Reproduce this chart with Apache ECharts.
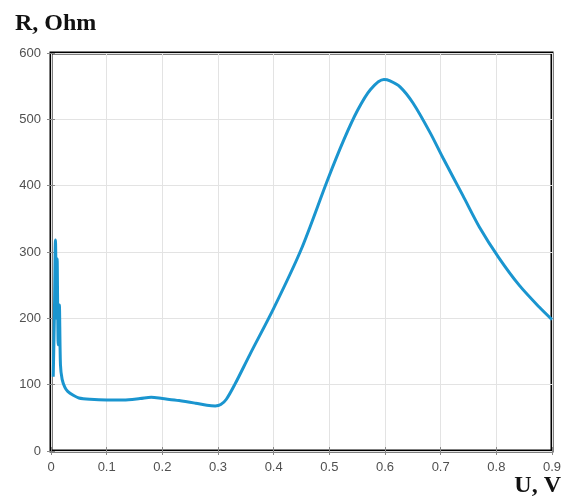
<!DOCTYPE html>
<html>
<head>
<meta charset="utf-8">
<script src="https://cdn.jsdelivr.net/npm/echarts@6/dist/echarts.min.js"></script>
<style>
  html, body { margin: 0; padding: 0; background: #fff; }
  #chart { width: 566px; height: 500px; }
</style>
</head>
<body>
<div id="chart"></div>
<script>
// voltage, V
const voltage = [
  0.004, 0.006, 0.008, 0.010, 0.011, 0.013, 0.015, 0.017, 0.020, 0.025,
  0.03, 0.04, 0.05, 0.07, 0.10, 0.13, 0.16, 0.18, 0.20, 0.23,
  0.26, 0.28, 0.295, 0.305, 0.315, 0.33, 0.357, 0.40, 0.449, 0.497,
  0.526, 0.551, 0.574, 0.598, 0.609, 0.627, 0.65, 0.681, 0.704, 0.74,
  0.77, 0.804, 0.841, 0.877, 0.90
];
// resistance, Ohm
const resistance = [
  112, 200, 318, 200, 290, 160, 220, 130, 108, 96,
  90, 84, 80, 78, 77, 77, 79, 81, 79, 76,
  72, 69, 68, 70, 78, 100, 145, 215, 303, 409,
  469, 514, 545, 560, 558, 549, 525, 480, 442, 385,
  337, 292, 250, 217, 198
];
const xTicks = ['0', '0.1', '0.2', '0.3', '0.4', '0.5', '0.6', '0.7', '0.8', '0.9'];

const chart = echarts.init(document.getElementById('chart'));

const points = voltage.map((u, i) => [u, resistance[i]]);

const labelStyle = { color: '#505050', fontSize: 13, fontFamily: 'Liberation Sans, Arial, sans-serif' };
const tickStyle = { show: true, inside: true, length: 4, lineStyle: { color: '#888', width: 1 } };
const axisTitleStyle = { fontFamily: 'Liberation Serif, serif', fontWeight: 'bold', fontSize: 24, color: '#111' };

const option = {
  animation: false,
  title: [
    { text: 'R, Ohm', left: 10, top: 7, textStyle: axisTitleStyle },
    { text: 'U, V', right: 0, bottom: -3, textStyle: axisTitleStyle }
  ],
  grid: {
    left: 51, right: 14, top: 53, bottom: 49,
    show: true, borderColor: '#000', borderWidth: 3
  },
  xAxis: [
    {
      type: 'value', min: 0, max: 0.9, interval: 0.1,
      axisLine: { show: false },
      axisTick: tickStyle,
      splitLine: { show: true, lineStyle: { color: '#e3e3e3', width: 1 } },
      axisLabel: Object.assign({ margin: 10, formatter: (v) => xTicks[Math.round(v * 10)] }, labelStyle)
    },
    {
      type: 'value', min: 0, max: 0.9, interval: 0.1, position: 'top',
      axisLine: { show: false }, axisTick: tickStyle, axisLabel: { show: false }, splitLine: { show: false }
    }
  ],
  yAxis: [
    {
      type: 'value', min: 0, max: 600, interval: 100,
      axisLine: { show: false },
      axisTick: tickStyle,
      splitLine: { show: true, lineStyle: { color: '#e3e3e3', width: 1 } },
      axisLabel: Object.assign({ margin: 10 }, labelStyle)
    },
    {
      type: 'value', min: 0, max: 600, interval: 100, position: 'right',
      axisLine: { show: false }, axisTick: tickStyle, axisLabel: { show: false }, splitLine: { show: false }
    }
  ],
  series: [
    {
      type: 'line',
      data: points,
      showSymbol: false,
      smooth: 0.3,
      lineStyle: { color: '#1a95cf', width: 3 },
      clip: true
    }
  ]
};

chart.setOption(option);
</script>
</body>
</html>
